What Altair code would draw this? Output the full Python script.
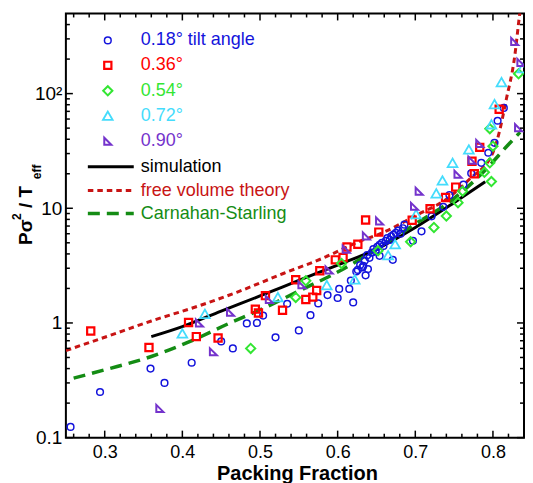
import altair as alt
import pandas as pd

# ---------------- data ----------------
blue_x = [0.256, 0.294, 0.359, 0.377, 0.412, 0.450, 0.465, 0.483, 0.496, 0.504,
          0.520, 0.535, 0.550, 0.565, 0.575, 0.587, 0.600, 0.602, 0.615, 0.617,
          0.620, 0.624, 0.626, 0.629, 0.632, 0.633, 0.635, 0.636, 0.638, 0.639,
          0.641, 0.644, 0.646, 0.649, 0.651, 0.654, 0.654, 0.657, 0.659, 0.662,
          0.664, 0.667, 0.669, 0.671, 0.672, 0.675, 0.678, 0.681, 0.684, 0.686,
          0.697, 0.708, 0.721, 0.736, 0.744, 0.762, 0.772, 0.785, 0.794, 0.802,
          0.806, 0.814]
blue_y = [0.124, 0.25, 0.40, 0.30, 0.45, 0.69, 0.60, 0.99, 1.0, 1.16,
          0.75, 1.47, 0.86, 1.17, 1.48, 1.75, 1.65, 1.98, 1.98, 2.34,
          1.51, 2.81, 2.9, 3.2, 3.05, 3.15, 3.5, 2.6, 3.9, 2.95,
          3.7, 4.1, 4.4, 4.2, 4.6, 4.8, 3.85, 5.0, 4.7, 5.2,
          5.5, 5.3, 5.7, 3.55, 5.9, 6.1, 6.4, 6.0, 6.7, 7.2,
          5.2, 6.3, 8.5, 10.3, 13.0, 16.1, 20.2, 24.9, 30.5, 37.2,
          58, 75]

red_x = [0.282, 0.357, 0.408, 0.418, 0.446, 0.494, 0.498, 0.507, 0.529, 0.546,
         0.559, 0.568, 0.573, 0.577, 0.597, 0.607, 0.612, 0.626, 0.636, 0.653,
         0.696, 0.719, 0.739, 0.752, 0.776, 0.773, 0.783, 0.808]
red_y = [0.85, 0.61, 1.01, 0.76, 0.74, 1.32, 1.22, 1.73, 1.29, 2.38,
         1.6, 1.68, 1.92, 2.85, 3.55, 3.72, 4.6, 4.86, 7.9, 6.2,
         7.86, 9.9, 12.4, 15.3, 20.0, 25.7, 34, 73]

green_x = [0.488, 0.546, 0.559, 0.605, 0.652, 0.694, 0.724, 0.740, 0.755, 0.761,
           0.789, 0.798, 0.796, 0.800, 0.796, 0.833]
green_y = [0.60, 1.67, 2.33, 3.3, 4.26, 5.1, 6.8, 8.56, 11.2, 14.1,
           20.6, 17.1, 24.9, 34.8, 49.4, 149]

cyan_x = [0.400, 0.429, 0.523, 0.586, 0.622, 0.665, 0.674, 0.701, 0.727, 0.735,
          0.748, 0.769, 0.798, 0.802, 0.811, 0.838]
cyan_y = [0.81, 1.2, 1.68, 2.14, 2.4, 3.9, 4.86, 8.9, 13.5, 17.5,
          24.9, 32.6, 54, 81, 126, 167]

purple_x = [0.371, 0.422, 0.440, 0.462, 0.512, 0.554, 0.589, 0.611, 0.637, 0.654,
            0.699, 0.705, 0.755, 0.773, 0.783, 0.828, 0.833, 0.836]
purple_y = [0.18, 1.0, 0.56, 1.24, 1.6, 2.15, 2.9, 4.4, 5.74, 7.76,
            10.4, 14.1, 19.8, 26.2, 36.7, 285, 50.4, 187]

sim_x = [0.36, 0.40, 0.45, 0.50, 0.55, 0.60, 0.65, 0.70, 0.75, 0.79]
sim_y = [0.76, 0.93, 1.27, 1.72, 2.35, 3.2, 4.4, 6.8, 11.2, 17.0]

fvt_x = [0.25, 0.30, 0.36, 0.42, 0.47, 0.53, 0.58, 0.63, 0.655, 0.70,
         0.74, 0.77, 0.80, 0.808, 0.817, 0.828, 0.834, 0.84]
fvt_y = [0.575, 0.75, 1.04, 1.4, 1.85, 2.7, 3.65, 5.2, 6.0, 8.6,
         12.0, 18.0, 30.6, 45.6, 88, 211, 470, 1000]

cs_x = [0.26, 0.30, 0.36, 0.41, 0.46, 0.50, 0.55, 0.60, 0.65, 0.70,
        0.75, 0.79, 0.82, 0.835]
cs_y = [0.33, 0.39, 0.51, 0.69, 0.99, 1.3, 1.9, 2.78, 4.4, 7.3,
        12.2, 21.5, 36, 46]

x_major = [0.3, 0.4, 0.5, 0.6, 0.7, 0.8]
x_minor = [0.26, 0.28, 0.32, 0.34, 0.36, 0.38, 0.42, 0.44, 0.46, 0.48,
           0.52, 0.54, 0.56, 0.58, 0.62, 0.64, 0.66, 0.68, 0.72, 0.74,
           0.76, 0.78, 0.82]
y_major = [0.1, 1, 10, 100]
y_minor = [0.2, 0.3, 0.4, 0.5, 0.6, 0.7, 0.8, 0.9,
           2, 3, 4, 5, 6, 7, 8, 9,
           20, 30, 40, 50, 60, 70, 80, 90,
           200, 300, 400]

series_labels = ["0.18° tilt angle", "0.36°", "0.54°", "0.72°", "0.90°"]
line_labels = ["simulation", "free volume theory", "Carnahan-Starling"]

# ---------------- styling ----------------
W, H = 459, 425
FONT = "Liberation Sans"
RTRI = "M -1 -1 L -1 1 L 1 1 Z"

xs = alt.Scale(domain=[0.25, 0.84], nice=False, zero=False)
ys = alt.Scale(type="log", domain=[0.1, 500], nice=False)

X_AXIS = alt.Axis(values=x_major, format=".1f", ticks=False, domain=False, grid=False,
                  labelFont=FONT, labelFontSize=18, labelColor="black", labelPadding=6,
                  labelFlush=False, title=None)
Y_AXIS = alt.Axis(values=y_major,
                  labelExpr="datum.value >= 100 ? '10²' : datum.value >= 10 ? '10' : datum.value >= 1 ? '1' : '0.1'",
                  ticks=False, domain=False, grid=False, labelFont=FONT, labelFontSize=19,
                  labelColor="black", labelPadding=4, title=None)


def X(field):
    return alt.X(field, scale=xs, axis=X_AXIS)


def Y(field):
    return alt.Y(field, scale=ys, axis=Y_AXIS)


scatter_specs = [
    (blue_x, blue_y, "circle", "#1414dc", 45, 1.5),
    (red_x, red_y, "square", "#ff0000", 52, 2.2),
    (green_x, green_y, "diamond", "#33e633", 85, 2.0),
    (cyan_x, cyan_y, "triangle-up", "#44dcfc", 95, 1.8),
    (purple_x, purple_y, RTRI, "#7433cc", 50, 2.0),
]
line_specs = [
    (sim_x, sim_y, "black", 3.0, None),
    (fvt_x, fvt_y, "#c81414", 3.0, [5.5, 4]),
    (cs_x, cs_y, "#148c14", 3.5, [12, 7]),
]

layers = []
# lines
for lx, ly, col, sw, dash in line_specs:
    df = pd.DataFrame({"x": lx, "y": ly})
    kw = dict(color=col, strokeWidth=sw, clip=True, interpolate="monotone")
    if dash:
        kw["strokeDash"] = dash
    layers.append(alt.Chart(df).mark_line(**kw).encode(
        x=X("x:Q"), y=Y("y:Q"), order="x:Q"))

# scatter
for sx, sy, shape, col, size, sw in scatter_specs:
    df = pd.DataFrame({"x": sx, "y": sy})
    layers.append(alt.Chart(df).mark_point(shape=shape, filled=False, color=col, size=size,
                                           strokeWidth=sw, opacity=1, clip=True).encode(
        x=X("x:Q"), y=Y("y:Q")))


# inward ticks on all four sides
def xticks(vals, length):
    df = pd.DataFrame({"v": vals})
    base = alt.Chart(df).mark_rule(color="black", strokeWidth=1.5)
    return [base.encode(x=X("v:Q"), y=alt.value(H), y2=alt.value(H - length)),
            base.encode(x=X("v:Q"), y=alt.value(0), y2=alt.value(length))]


def yticks(vals, length):
    df = pd.DataFrame({"v": vals})
    base = alt.Chart(df).mark_rule(color="black", strokeWidth=1.5)
    return [base.encode(y=Y("v:Q"), x=alt.value(0), x2=alt.value(length)),
            base.encode(y=Y("v:Q"), x=alt.value(W), x2=alt.value(W - length))]


layers += xticks(x_major, 7) + xticks(x_minor, 4) + yticks(y_major, 7) + yticks(y_minor, 4)

one = pd.DataFrame({"a": [0]})
# legend: markers
rows_sym = [27, 52, 77.5, 102.5, 128]
for (sx, sy, shape, col, size, sw), lab, ry in zip(scatter_specs, series_labels, rows_sym):
    layers.append(alt.Chart(one).mark_point(shape=shape, filled=False, color=col, size=size,
                                            strokeWidth=sw, opacity=1).encode(
        x=alt.value(42), y=alt.value(ry)))
    layers.append(alt.Chart(one).mark_text(text=lab, align="left", baseline="middle",
                                           font=FONT, fontSize=18, color=col).encode(
        x=alt.value(75), y=alt.value(ry)))
# legend: lines
rows_line = [153.5, 177.5, 200.5]
for (lx, ly, col, sw, dash), lab, ry in zip(line_specs, line_labels, rows_line):
    kw = dict(color=col, strokeWidth=sw)
    if dash:
        kw["strokeDash"] = dash
    layers.append(alt.Chart(one).mark_rule(**kw).encode(
        x=alt.value(22), x2=alt.value(68), y=alt.value(ry)))
    layers.append(alt.Chart(one).mark_text(text=lab, align="left", baseline="middle",
                                           font=FONT, fontSize=18, color=col).encode(
        x=alt.value(75), y=alt.value(ry)))

# axis titles
layers.append(alt.Chart(one).mark_text(text="Packing Fraction", align="center", baseline="alphabetic",
                                       font=FONT, fontSize=20, fontWeight="bold", color="black").encode(
    x=alt.value(232), y=alt.value(467)))
ytitle = [("Pσ", 19, -34, 232), ("2", 12, -45, 207), ("/ T", 19, -34, 195), ("eff", 12, -25, 166)]
for txt, fs, xx, yy in ytitle:
    layers.append(alt.Chart(one).mark_text(text=txt, align="left", baseline="alphabetic", angle=270,
                                           font=FONT, fontSize=fs, fontWeight="bold", color="black").encode(
        x=alt.value(xx), y=alt.value(yy)))

chart = alt.layer(*layers).properties(
    width=W, height=H,
    padding={"left": 58, "top": 5, "right": 1, "bottom": 45},
    autosize=alt.AutoSizeParams(type="none"),
    background="white",
).configure_view(stroke="black", strokeWidth=2)

chart.save("out.html", embed_options={"renderer": "svg", "actions": False})
